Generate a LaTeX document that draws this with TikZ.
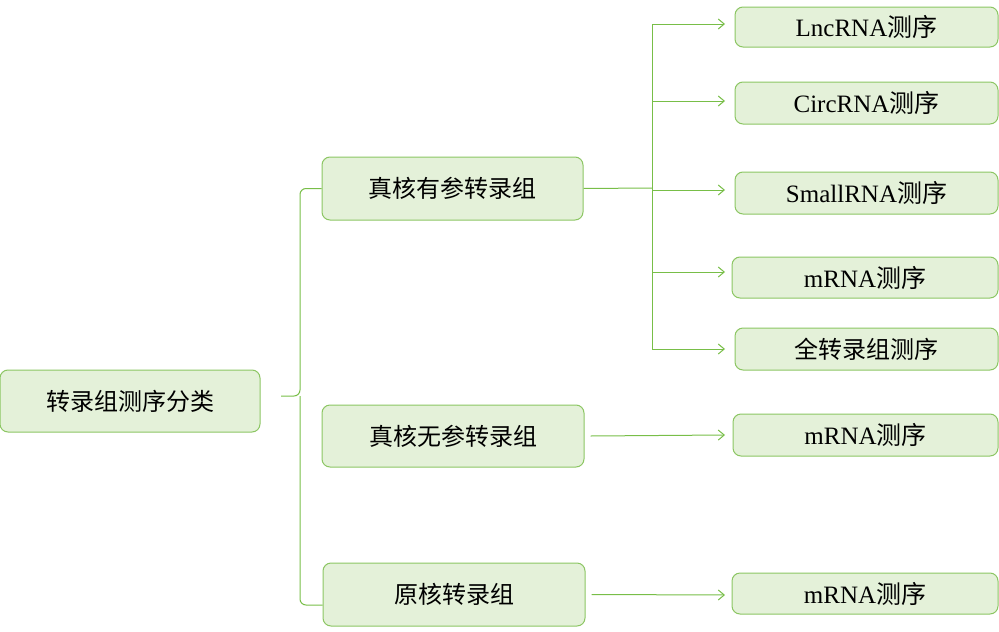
\documentclass[tikz,border=0pt]{standalone}
\usepackage{fontspec}
\setmainfont{Liberation Serif}
\newfontfamily\cjk{Noto Sans CJK SC}
\usetikzlibrary{arrows.meta}
\definecolor{boxfill}{HTML}{E4F1D9}
\definecolor{boxline}{HTML}{8CC663}
\definecolor{linkline}{HTML}{78BE48}
\tikzset{
  box/.style={draw=boxline, fill=boxfill, rounded corners=8pt, line width=1pt, inner sep=0pt},
  link/.style={draw=linkline, line width=1pt, -{Straight Barb[length=6pt,width=10pt]}},
}
\begin{document}
\begin{tikzpicture}[x=1pt,y=-1pt]
      \useasboundingbox (0,0) rectangle (999,632);

      \node[box, minimum width=260pt, minimum height=62pt, font=\cjk\fontsize{24}{28}\selectfont](root) at (130,401){转录组测序分类};

      \node[box, minimum width=261pt, minimum height=63pt, font=\cjk\fontsize{24}{28}\selectfont](ref) at (452.5,188.5){真核有参转录组};
      \node[box, minimum width=262pt, minimum height=62pt, font=\cjk\fontsize{24}{28}\selectfont](noref) at (453,436){真核无参转录组};
      \node[box, minimum width=262pt, minimum height=63pt, font=\cjk\fontsize{24}{28}\selectfont](prok) at (454,594.5){原核转录组};

      \node[box, minimum width=263pt, minimum height=40pt, font=\fontsize{25}{28}\selectfont](lnc) at (866.5,27){LncRNA{\cjk 测序}};
      \node[box, minimum width=263pt, minimum height=42pt, font=\fontsize{25}{28}\selectfont](circ) at (866.5,103){CircRNA{\cjk 测序}};
      \node[box, minimum width=263pt, minimum height=42pt, font=\fontsize{25}{28}\selectfont](small) at (866.5,193){SmallRNA{\cjk 测序}};
      \node[box, minimum width=266pt, minimum height=41pt, font=\fontsize{25}{28}\selectfont](mrna) at (865,277.5){mRNA{\cjk 测序}};
      \node[box, minimum width=263pt, minimum height=42pt, font=\cjk\fontsize{24}{28}\selectfont](whole) at (866.5,349){全转录组测序};
      \node[box, minimum width=265pt, minimum height=42pt, font=\fontsize{25}{28}\selectfont](mrnab) at (865.5,435){mRNA{\cjk 测序}};
      \node[box, minimum width=266pt, minimum height=41pt, font=\fontsize{25}{28}\selectfont](mrnac) at (865,593.5){mRNA{\cjk 测序}};

      % bracket from root to first level
      \coordinate (mid) at (300,396);
      \draw [draw=linkline, line width=1pt] (ref.west) -- ++(-14,0) [rounded corners=6pt] -- (300,188.5) -- (300,396) -- (281,396);
      \draw [draw=linkline, line width=1pt, rounded corners=6pt] (300,396) -- (300,605) -- (prok.west |- 0,605);

      % trunk for the first group
      \coordinate (trunk) at (652,188);
      \draw [draw=linkline, line width=1pt] (ref.east) -- (trunk);
      \draw [draw=linkline, line width=1pt] (652,24) -- (652,349);
      \foreach \n/\y in {lnc/24, circ/101, small/190, mrna/272, whole/349}
        \draw [link] (652,\y) -- (725,\y);

      \draw [link] (noref.east) ++(6,0) -- (725,435);
      \draw [link] (prok.east) ++(6,0) -- (725,595);
    \end{tikzpicture}
\end{document}
